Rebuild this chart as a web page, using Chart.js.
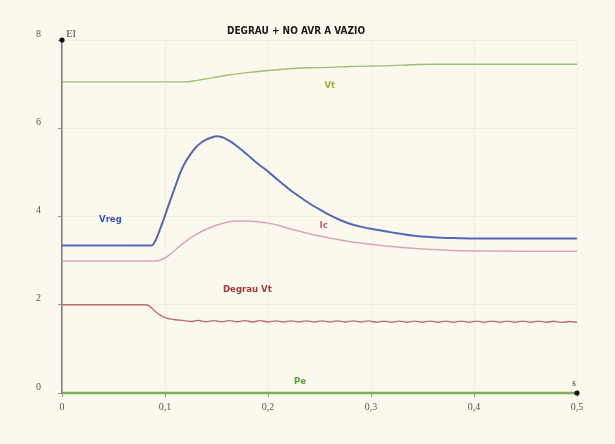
<!DOCTYPE html>
<html>
<head>
<meta charset="utf-8">
<script src="https://cdn.jsdelivr.net/npm/chart.js@4/dist/chart.umd.min.js"></script>
<style>
  html, body { margin: 0; padding: 0; background: #fbf9ed; }
  #wrap { width: 615px; height: 444px; }
</style>
</head>
<body>
<div id="wrap"><canvas id="c" width="615" height="444"></canvas></div>
<script>
// Tensão terminal Vt
const tempoVt = [0, 0.12, 0.13, 0.14, 0.15, 0.16, 0.18, 0.2, 0.22, 0.24, 0.26, 0.28, 0.3, 0.32, 0.34, 0.36, 0.4, 0.5];
const vt      = [7.05, 7.05, 7.08, 7.12, 7.16, 7.2, 7.26, 7.31, 7.35, 7.37, 7.38, 7.4, 7.41, 7.42, 7.44, 7.45, 7.45, 7.45];

// Saída do regulador Vreg
const tempoVreg = [0, 0.05, 0.087, 0.09, 0.095, 0.1, 0.105, 0.11, 0.115, 0.12, 0.125, 0.13, 0.135, 0.14, 0.145, 0.15, 0.155, 0.16, 0.165, 0.17, 0.18, 0.19, 0.2, 0.21, 0.22, 0.23, 0.24, 0.25, 0.26, 0.27, 0.28, 0.29, 0.3, 0.32, 0.34, 0.36, 0.38, 0.4, 0.45, 0.5];
const vreg      = [3.34, 3.34, 3.34, 3.42, 3.7, 4.02, 4.36, 4.68, 5.0, 5.24, 5.42, 5.57, 5.67, 5.74, 5.79, 5.82, 5.8, 5.75, 5.68, 5.59, 5.4, 5.2, 5.02, 4.82, 4.63, 4.46, 4.3, 4.16, 4.03, 3.92, 3.83, 3.77, 3.72, 3.64, 3.57, 3.53, 3.51, 3.5, 3.5, 3.5];

// Corrente de campo Ic
const tempoIc = [0, 0.09, 0.095, 0.1, 0.105, 0.11, 0.115, 0.12, 0.125, 0.13, 0.14, 0.15, 0.16, 0.17, 0.18, 0.19, 0.2, 0.21, 0.22, 0.23, 0.24, 0.25, 0.26, 0.27, 0.28, 0.29, 0.3, 0.32, 0.34, 0.36, 0.38, 0.4, 0.45, 0.5];
const ic      = [2.99, 2.99, 3.01, 3.06, 3.14, 3.24, 3.34, 3.43, 3.52, 3.59, 3.71, 3.8, 3.87, 3.9, 3.9, 3.88, 3.85, 3.8, 3.73, 3.67, 3.61, 3.56, 3.51, 3.47, 3.43, 3.4, 3.37, 3.32, 3.28, 3.25, 3.23, 3.22, 3.21, 3.21];

// Degrau aplicado na referência Vt
const tempoDegrau = [0, 0.08, 0.085, 0.09, 0.095, 0.1, 0.105, 0.11, 0.1175, 0.125, 0.1325, 0.14, 0.1475, 0.155, 0.1625, 0.17, 0.1775, 0.185, 0.1925, 0.2, 0.2075, 0.215, 0.2225, 0.23, 0.2375, 0.245, 0.2525, 0.26, 0.2675, 0.275, 0.2825, 0.29, 0.2975, 0.305, 0.3125, 0.32, 0.3275, 0.335, 0.3425, 0.35, 0.3575, 0.365, 0.3725, 0.38, 0.3875, 0.395, 0.4025, 0.41, 0.4175, 0.425, 0.4325, 0.44, 0.4475, 0.455, 0.4625, 0.47, 0.4775, 0.485, 0.4925, 0.5];
const degrau      = [2.0, 2.0, 1.97, 1.86, 1.77, 1.71, 1.68, 1.66, 1.645, 1.62, 1.645, 1.615, 1.64, 1.615, 1.64, 1.615, 1.64, 1.61, 1.64, 1.61, 1.635, 1.61, 1.635, 1.61, 1.635, 1.61, 1.635, 1.61, 1.635, 1.61, 1.635, 1.61, 1.635, 1.605, 1.63, 1.605, 1.63, 1.605, 1.63, 1.605, 1.63, 1.605, 1.63, 1.605, 1.63, 1.605, 1.63, 1.605, 1.63, 1.605, 1.63, 1.605, 1.63, 1.605, 1.63, 1.605, 1.625, 1.6, 1.62, 1.6];

// Potência elétrica Pe
const tempoPe = [0, 0.1, 0.2, 0.3, 0.4, 0.5];
const pe      = [0, 0, 0, 0, 0, 0];

// Eixos
const ticksX = [0, 0.1, 0.2, 0.3, 0.4, 0.5];
const ticksY = [0, 2, 4, 6, 8];

const titulo = 'DEGRAU + NO AVR A VAZIO';

function pares(xs, ys) { return xs.map((x, i) => ({ x: x, y: ys[i] })); }

// Rótulos escritos junto às curvas, posicionados em coordenadas dos dados
const rotulos = [
  { texto: 'Vt',        x: 0.26,  y: 6.97, cor: '#9ab33e' },
  { texto: 'Vreg',      x: 0.047, y: 3.94, cor: '#3b52b0' },
  { texto: 'Ic',        x: 0.254, y: 3.79, cor: '#c25a82' },
  { texto: 'Degrau Vt', x: 0.18,  y: 2.35, cor: '#a3363a' },
  { texto: 'Pe',        x: 0.231, y: 0.27, cor: '#5f9c3c' }
];

const fundo = {
  id: 'fundo',
  beforeDraw(chart) {
    const ctx = chart.ctx;
    ctx.save();
    ctx.fillStyle = '#fbf9ed';
    ctx.fillRect(0, 0, chart.width, chart.height);
    ctx.restore();
  }
};

const anotacoes = {
  id: 'anotacoes',
  afterDraw(chart) {
    const ctx = chart.ctx;
    const sx = chart.scales.x, sy = chart.scales.y;
    const ca = chart.chartArea;
    ctx.save();
    // pontos nas extremidades dos eixos
    ctx.fillStyle = '#111';
    ctx.beginPath(); ctx.arc(ca.left, ca.top, 2.6, 0, Math.PI * 2); ctx.fill();
    ctx.beginPath(); ctx.arc(ca.right, ca.bottom, 2.6, 0, Math.PI * 2); ctx.fill();

    ctx.textAlign = 'center';
    ctx.textBaseline = 'middle';
    // título
    ctx.fillStyle = '#1a1a1a';
    ctx.font = 'bold 10px "Liberation Sans Narrow", "DejaVu Sans Condensed", sans-serif';
    ctx.fillText(titulo, 296, 31);

    // nomes dos eixos
    ctx.fillStyle = '#444';
    ctx.font = '10px "Liberation Serif", serif';
    ctx.fillText('EI', ca.left + 9, ca.top - 6);
    ctx.fillText('s', ca.right - 3, ca.bottom - 10);

    // nomes das curvas
    ctx.font = 'bold 9.5px "Liberation Sans Narrow", "DejaVu Sans Condensed", sans-serif';
    rotulos.forEach(r => {
      ctx.fillStyle = r.cor;
      ctx.fillText(r.texto, sx.getPixelForValue(r.x), sy.getPixelForValue(r.y));
    });
    ctx.restore();
  }
};

function serie(xs, ys, cor, largura) {
  return {
    data: pares(xs, ys),
    borderColor: cor,
    borderWidth: largura,
    pointRadius: 0,
    cubicInterpolationMode: 'monotone',
    fill: false,
    clip: 6
  };
}

new Chart(document.getElementById('c'), {
  type: 'line',
  data: {
    datasets: [
      serie(tempoPe, pe, '#7fae5e', 2.5),
      serie(tempoDegrau, degrau, '#bf6a70', 1.4),
      serie(tempoIc, ic, '#d9a6b8', 1.5),
      serie(tempoVreg, vreg, '#5468b4', 2),
      serie(tempoVt, vt, '#9cc078', 1.4)
    ]
  },
  options: {
    responsive: false,
    animation: false,
    layout: { padding: { top: 40, right: 38, left: 0, bottom: 0 } },
    plugins: {
      legend: { display: false },
      title: { display: false },
      tooltip: { enabled: false }
    },
    scales: {
      x: {
        type: 'linear',
        min: 0, max: 0.5,
        afterFit(s) { s.height = 51; },
        afterBuildTicks(s) { s.ticks = ticksX.map(v => ({ value: v })); },
        ticks: {
          padding: 4,
          color: '#555',
          font: { family: '"Liberation Serif", serif', size: 10 },
          callback: v => v === 0 ? '0' : v.toFixed(1).replace('.', ',')
        },
        grid: { color: 'rgba(120,120,90,0.07)', tickColor: '#999', tickLength: 4 },
        border: { color: '#7c7c7c', width: 1.5 }
      },
      y: {
        type: 'linear',
        min: 0, max: 8,
        afterFit(s) { s.width = 62; },
        afterBuildTicks(s) { s.ticks = ticksY.map(v => ({ value: v })); },
        ticks: {
          padding: 17,
          labelOffset: -6,
          color: '#555',
          font: { family: '"Liberation Serif", serif', size: 10 }
        },
        grid: { color: 'rgba(120,120,90,0.07)', tickColor: '#999', tickLength: 4 },
        border: { color: '#7c7c7c', width: 1.5 }
      }
    }
  },
  plugins: [fundo, anotacoes]
});
</script>
</body>
</html>
